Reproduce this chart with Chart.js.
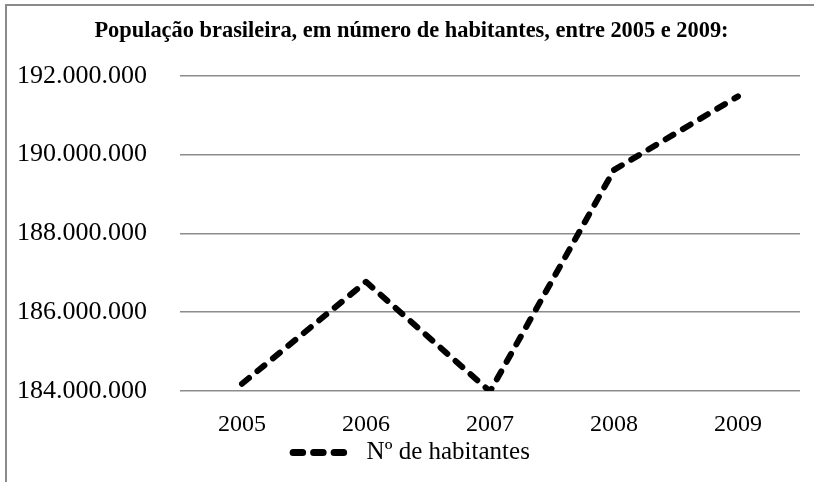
<!DOCTYPE html>
<html>
<head>
<meta charset="utf-8">
<script src="https://cdn.jsdelivr.net/npm/chart.js@4"></script>
<style>
  html, body { margin: 0; padding: 0; background: #fff; }
  #box {
    position: absolute; left: 5px; top: 4px;
    width: 809px; height: 478px;
    border-top: 2px solid #8a8a8a; border-left: 2px solid #8a8a8a;
  }
  #box canvas { display: block; }
</style>
</head>
<body>
<div id="box"><canvas id="chart" width="807" height="476"></canvas></div>
<script>
// dados
const anos = ["2005", "2006", "2007", "2008", "2009"];
const habitantes = [184184264, 186770562, 183987291, 189612814, 191480630];
const tituloTexto = "População brasileira, em número de habitantes, entre 2005 e 2009:";
const serieNome = "Nº de habitantes";
const yMin = 184000000;
const yMax = 192000000;
const yPasso = 2000000;

const tracejado = [9, 11];

function pontos(v) {
  return String(v).replace(/\B(?=(\d{3})+(?!\d))/g, ".");
}

const serif = "'Liberation Serif', 'Times New Roman', serif";

// titulo e legenda ficam um pouco à direita do centro do canvas
const desloca = {
  id: "desloca",
  afterLayout(chart) {
    [chart.titleBlock, chart.legend].forEach(b => {
      if (b) { b.left += 8; b.right += 8; }
    });
  }
};

new Chart(document.getElementById("chart"), {
  type: "line",
  data: {
    labels: anos,
    datasets: [{
      label: serieNome,
      data: habitantes,
      borderColor: "#000",
      backgroundColor: "#000",
      borderWidth: 6,
      borderDash: tracejado,
      borderCapStyle: "round",
      borderJoinStyle: "round",
      pointRadius: 0,
      pointHoverRadius: 0,
      tension: 0,
      fill: false
    }]
  },
  plugins: [desloca],
  options: {
    responsive: false,
    animation: false,
    layout: { padding: { top: 0, right: 14, bottom: 7, left: 0 } },
    plugins: {
      title: {
        display: true,
        text: tituloTexto,
        color: "#000",
        font: { family: serif, size: 22.4, weight: "bold" },
        padding: { top: 12, bottom: 31 }
      },
      legend: {
        position: "bottom",
        labels: {
          color: "#000",
          font: { family: serif, size: 25 },
          usePointStyle: true,
          pointStyle: "line",
          pointStyleWidth: 61,
          boxHeight: 10,
          padding: 1,
          generateLabels: (chart) =>
            Chart.defaults.plugins.legend.labels.generateLabels(chart).map(it => {
              it.lineDash = [9.5, 11];
              it.lineCap = "round";
              it.lineWidth = 7;
              it.strokeStyle = "#000";
              return it;
            })
        }
      },
      tooltip: { enabled: false }
    },
    scales: {
      x: {
        offset: true,
        grid: { display: false, drawTicks: false },
        border: { display: false },
        afterFit: (s) => { s.height = 48; },
        ticks: {
          color: "#000",
          font: { family: serif, size: 24 },
          padding: 19
        }
      },
      y: {
        min: yMin,
        max: yMax,
        grid: { color: "#8c8c8c", lineWidth: 1.5, drawTicks: false },
        border: { display: false },
        afterFit: (s) => { s.width = 173; },
        ticks: {
          stepSize: yPasso,
          color: "#000",
          font: { family: serif, size: 26 },
          padding: 33,
          callback: (v) => pontos(v)
        }
      }
    }
  }
});
</script>
</body>
</html>
